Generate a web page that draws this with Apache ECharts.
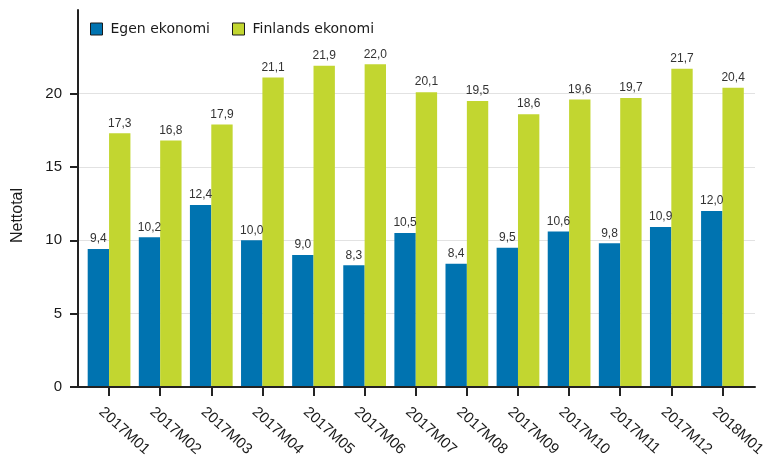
<!DOCTYPE html>
<html>
<head>
<meta charset="utf-8">
<script src="https://cdn.jsdelivr.net/npm/echarts@6/dist/echarts.min.js"></script>
<style>
html,body{margin:0;padding:0;background:#fff;}
#chart{width:769px;height:465px;}
</style>
</head>
<body>
<div id="chart"></div>
<script>
var categories = ['2017M01','2017M02','2017M03','2017M04','2017M05','2017M06','2017M07','2017M08','2017M09','2017M10','2017M11','2017M12','2018M01'];
var egenEkonomi = [9.4, 10.2, 12.4, 10.0, 9.0, 8.3, 10.5, 8.4, 9.5, 10.6, 9.8, 10.9, 12.0];
var finlandsEkonomi = [17.3, 16.8, 17.9, 21.1, 21.9, 22.0, 20.1, 19.5, 18.6, 19.6, 19.7, 21.7, 20.4];
var yTicks = [0, 5, 10, 15, 20];
var seriesNames = ['Egen ekonomi', 'Finlands ekonomi'];
var yName = 'Nettotal';

var chart = echarts.init(document.getElementById('chart'), null, {renderer: 'canvas'});
var fmt = function (p) { return p.value.toFixed(1).replace('.', ','); };
var yMax = 25.7;
var sans = 'Arial';

var option = {
  animation: false,
  backgroundColor: '#ffffff',
  legend: [
    {
      data: [seriesNames[0]], left: 90, top: 22, padding: 0,
      icon: 'rect', itemWidth: 12, itemHeight: 12, selectedMode: false,
      itemStyle: {borderColor: '#1a1a1a', borderWidth: 1},
      textStyle: {fontFamily: 'DejaVu Sans', fontSize: 14, color: '#1a1a1a', padding: [0, 0, 0, 3]}
    },
    {
      data: [seriesNames[1]], left: 232, top: 22, padding: 0,
      icon: 'rect', itemWidth: 12, itemHeight: 12, selectedMode: false,
      itemStyle: {borderColor: '#1a1a1a', borderWidth: 1},
      textStyle: {fontFamily: 'DejaVu Sans', fontSize: 14, color: '#1a1a1a', padding: [0, 0, 0, 3]}
    }
  ],
  grid: [
    {left: 78, right: 14, top: 10, bottom: 78, outerBoundsMode: 'none', containLabel: false},
    {left: 83.5, right: 21, top: 10, bottom: 78, outerBoundsMode: 'none', containLabel: false}
  ],
  xAxis: [
    {
      type: 'category', gridIndex: 0, data: categories, z: 5,
      axisLine: {show: true, lineStyle: {color: '#222', width: 2}},
      axisTick: {show: false}, axisLabel: {show: false}, splitLine: {show: false}
    },
    {
      type: 'category', gridIndex: 1, data: categories,
      axisLine: {show: false},
      axisTick: {show: true, alignWithLabel: true, length: 9, lineStyle: {color: '#222', width: 2}},
      axisLabel: {rotate: -42, margin: 14, verticalAlign: 'top', lineHeight: 24, fontFamily: sans, fontSize: 15, color: '#1a1a1a', interval: 0},
      splitLine: {show: false}
    }
  ],
  yAxis: [
    {
      type: 'value', gridIndex: 0, min: 0, max: yMax, interval: 5,
      name: yName, nameLocation: 'middle', nameGap: 52, nameRotate: 90,
      nameTextStyle: {fontFamily: sans, fontSize: 16, color: '#1a1a1a', padding: [0, 34, 0, 0]},
      axisLine: {show: true, lineStyle: {color: '#222', width: 2}},
      axisTick: {show: true, length: 8, customValues: yTicks, lineStyle: {color: '#222', width: 2}},
      axisLabel: {customValues: yTicks, margin: 16, fontFamily: sans, fontSize: 15, color: '#1a1a1a'},
      splitLine: {show: true, lineStyle: {color: ['#e2e2e2', '#e2e2e2', '#e2e2e2', '#e2e2e2', '#e2e2e2', 'rgba(0,0,0,0)', 'rgba(0,0,0,0)'], width: 1}}
    },
    {
      type: 'value', gridIndex: 1, min: 0, max: yMax, show: false,
      splitLine: {show: false}
    }
  ],
  series: [
    {
      name: seriesNames[0], type: 'bar', xAxisIndex: 1, yAxisIndex: 1,
      data: egenEkonomi, barGap: '0%', barCategoryGap: '16.4%',
      itemStyle: {color: '#0073b0'},
      label: {show: true, position: 'top', distance: 4, formatter: fmt, fontFamily: sans, fontSize: 12, color: '#333'}
    },
    {
      name: seriesNames[1], type: 'bar', xAxisIndex: 1, yAxisIndex: 1,
      data: finlandsEkonomi, barGap: '0%', barCategoryGap: '16.4%',
      itemStyle: {color: '#c2d630'},
      label: {show: true, position: 'top', distance: 4, formatter: fmt, fontFamily: sans, fontSize: 12, color: '#333'}
    }
  ]
};
chart.setOption(option);
</script>
</body>
</html>
